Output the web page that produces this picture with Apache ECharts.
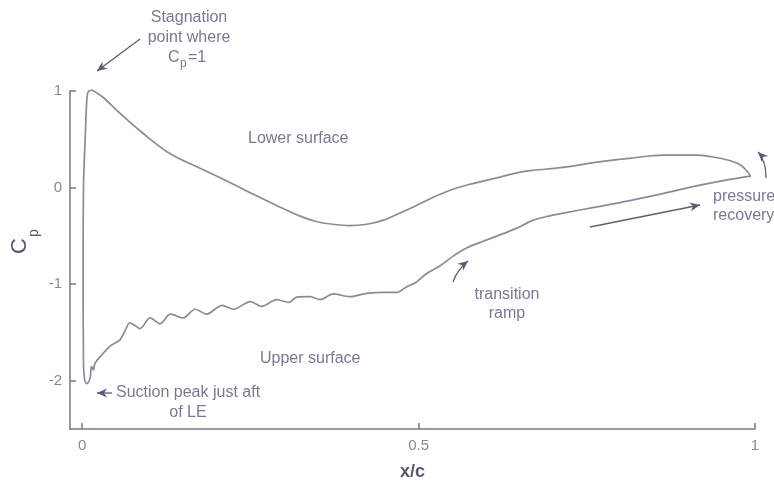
<!DOCTYPE html>
<html>
<head>
<meta charset="utf-8">
<script src="https://cdn.jsdelivr.net/npm/echarts@6/dist/echarts.min.js"></script>
<style>
html,body{margin:0;padding:0;background:#fff;}
#chart{width:774px;height:486px;}
</style>
</head>
<body>
<div id="chart"></div>
<script>
// Lower surface (plotted as upper curve): from stagnation point to trailing edge
const lowerX  = [0.0144,0.022,0.032,0.056,0.089,0.131,0.18,0.23,0.2545,0.289,0.324,0.349,0.373,0.397,0.423,0.448,0.4725,0.497,0.522,0.547,0.572,0.596,0.621,0.646,0.669,0.715,0.765,0.814,0.864,0.913,0.953,0.978,0.992,0.993];
const lowerCp = [1.01,0.98,0.93,0.77,0.57,0.35,0.185,0.017,-0.07,-0.185,-0.296,-0.354,-0.38,-0.394,-0.38,-0.337,-0.263,-0.185,-0.10,-0.027,0.027,0.067,0.108,0.152,0.178,0.209,0.263,0.303,0.337,0.337,0.296,0.236,0.135,0.11];
// Upper surface (plotted as lower curve): from stagnation point around LE, suction peak, to trailing edge
const upperX  = [0.0144,0.009,0.007,0.0045,0.002,0.0015,0.002,0.004,0.007,0.009,0.012,0.014,0.017,0.019,0.027,0.042,0.056,0.064,0.071,0.079,0.086,0.101,0.116,0.131,0.15,0.168,0.185,0.208,0.225,0.25,0.267,0.289,0.307,0.319,0.339,0.354,0.373,0.398,0.423,0.448,0.4675,0.482,0.497,0.512,0.532,0.552,0.572,0.596,0.621,0.646,0.668,0.69,0.715,0.765,0.814,0.864,0.913,0.963,0.993];
const upperCp = [1.01,0.99,0.91,0.5,0,-0.8,-1.8,-2.0,-2.03,-2.02,-1.97,-1.85,-1.89,-1.82,-1.75,-1.64,-1.58,-1.48,-1.40,-1.43,-1.46,-1.35,-1.41,-1.31,-1.35,-1.26,-1.31,-1.22,-1.26,-1.18,-1.23,-1.16,-1.19,-1.135,-1.13,-1.16,-1.10,-1.13,-1.095,-1.085,-1.085,-1.03,-0.977,-0.89,-0.81,-0.707,-0.623,-0.556,-0.49,-0.42,-0.345,-0.3,-0.265,-0.20,-0.135,-0.06,0.017,0.084,0.118];
// Tick labels
const xTicks = [0, 0.5, 1];
const yTicks = [-2, -1, 0, 1];

const lineColor = '#8d899c';
const axisColor = '#7a7589';
const tickLabelColor = '#8a8696';
const annColor = '#7c7893';
const arrowColor = '#5f5b75';
const titleColor = '#5a5670';
const FONT = '"Liberation Sans", Arial, sans-serif';

function zip(xs, ys){ return xs.map((x,i)=>[x, ys[i]]); }

function txt(text, x, y, opts){
  opts = opts || {};
  return {
    type:'text', x:x, y:y, rotation: opts.rotation || 0, silent:true,
    style:{
      text:text, fill: opts.fill || annColor,
      font: (opts.weight||'normal') + ' ' + (opts.size||16) + 'px ' + FONT,
      textAlign: opts.align || 'left', textVerticalAlign: 'middle'
    }
  };
}

function arrow(x1,y1,x2,y2,cx,cy){
  const els = [];
  const curved = cx !== undefined;
  els.push({
    type: curved ? 'bezierCurve' : 'line', silent:true,
    shape: curved ? {x1:x1,y1:y1,x2:x2,y2:y2,cpx1:cx,cpy1:cy} : {x1:x1,y1:y1,x2:x2,y2:y2},
    style:{stroke:arrowColor, lineWidth:1.3, fill:null}
  });
  const fx = curved ? cx : x1, fy = curved ? cy : y1;
  const a = Math.atan2(y2-fy, x2-fx);
  const L = 10, W = 4.5, N = 7;
  const ca = Math.cos(a), sa = Math.sin(a);
  const bx = x2 - L*ca, by = y2 - L*sa;
  const nx = x2 - N*ca, ny = y2 - N*sa;
  els.push({
    type:'polygon', silent:true,
    shape:{points:[[x2,y2],[bx + W*sa, by - W*ca],[nx,ny],[bx - W*sa, by + W*ca]]},
    style:{fill:arrowColor}
  });
  return els;
}

const graphics = [].concat(
  // Y axis title C_p (rotated)
  [txt('C', 20, 246, {rotation:Math.PI/2, size:22, fill:titleColor, align:'center'}),
   txt('p', 34, 233, {rotation:Math.PI/2, size:14, fill:titleColor, align:'center'})],
  // Stagnation annotation
  [txt('Stagnation', 189, 18, {align:'center'}),
   txt('point where', 189, 38, {align:'center'}),
   txt('C', 168, 58), txt('p', 180, 64, {size:12}), txt('=1', 188, 58)],
  arrow(140, 39, 97, 71),
  // Lower / Upper surface labels
  [txt('Lower surface', 248, 139), txt('Upper surface', 260, 359)],
  // Suction peak
  [txt('Suction peak just aft', 116, 393), txt('of LE', 188, 413, {align:'center'})],
  arrow(112, 393, 97, 393),
  // Transition ramp
  [txt('transition', 507, 295, {align:'center'}), txt('ramp', 507, 314, {align:'center'})],
  arrow(453, 282, 468, 261, 457, 270),
  // Pressure recovery
  [txt('pressure', 713, 197), txt('recovery', 713, 216)],
  arrow(590, 227, 700, 205),
  arrow(766, 178, 758, 152, 766, 160)
);

const chart = echarts.init(document.getElementById('chart'), null, {renderer:'canvas'});
chart.setOption({
  animation:false,
  backgroundColor:'#ffffff',
  grid:{left:70, right:19, top:91, bottom:49, containLabel:false},
  xAxis:{
    type:'value', min:-0.018, max:1,
    name:'x/c', nameLocation:'middle', nameGap:34,
    nameTextStyle:{color:titleColor, fontSize:18, fontWeight:'bold', fontFamily:FONT},
    axisLine:{show:true, onZero:false, lineStyle:{color:axisColor, width:1.5}},
    axisTick:{show:true, inside:true, length:6, customValues:xTicks, lineStyle:{color:axisColor, width:1.5}},
    axisLabel:{show:true, customValues:xTicks, margin:9, color:tickLabelColor, fontSize:15, fontFamily:FONT,
      formatter:function(v){ return String(v); }},
    splitLine:{show:false}
  },
  yAxis:{
    type:'value', min:-2.5, max:1,
    axisLine:{show:true, onZero:false, lineStyle:{color:axisColor, width:1.5}},
    axisTick:{show:true, inside:true, length:6, customValues:yTicks, lineStyle:{color:axisColor, width:1.5}},
    axisLabel:{show:true, customValues:yTicks, margin:8, color:tickLabelColor, fontSize:15, fontFamily:FONT,
      formatter:function(v){ return String(v); }},
    splitLine:{show:false}
  },
  series:[
    {name:'Lower surface', type:'line', data:zip(lowerX, lowerCp), showSymbol:false, clip:false,
     lineStyle:{color:lineColor, width:1.7}, smooth:0.35},
    {name:'Upper surface', type:'line', data:zip(upperX, upperCp), showSymbol:false, clip:false,
     lineStyle:{color:lineColor, width:1.7}, smooth:0.3}
  ],
  graphic: graphics
});
</script>
</body>
</html>
